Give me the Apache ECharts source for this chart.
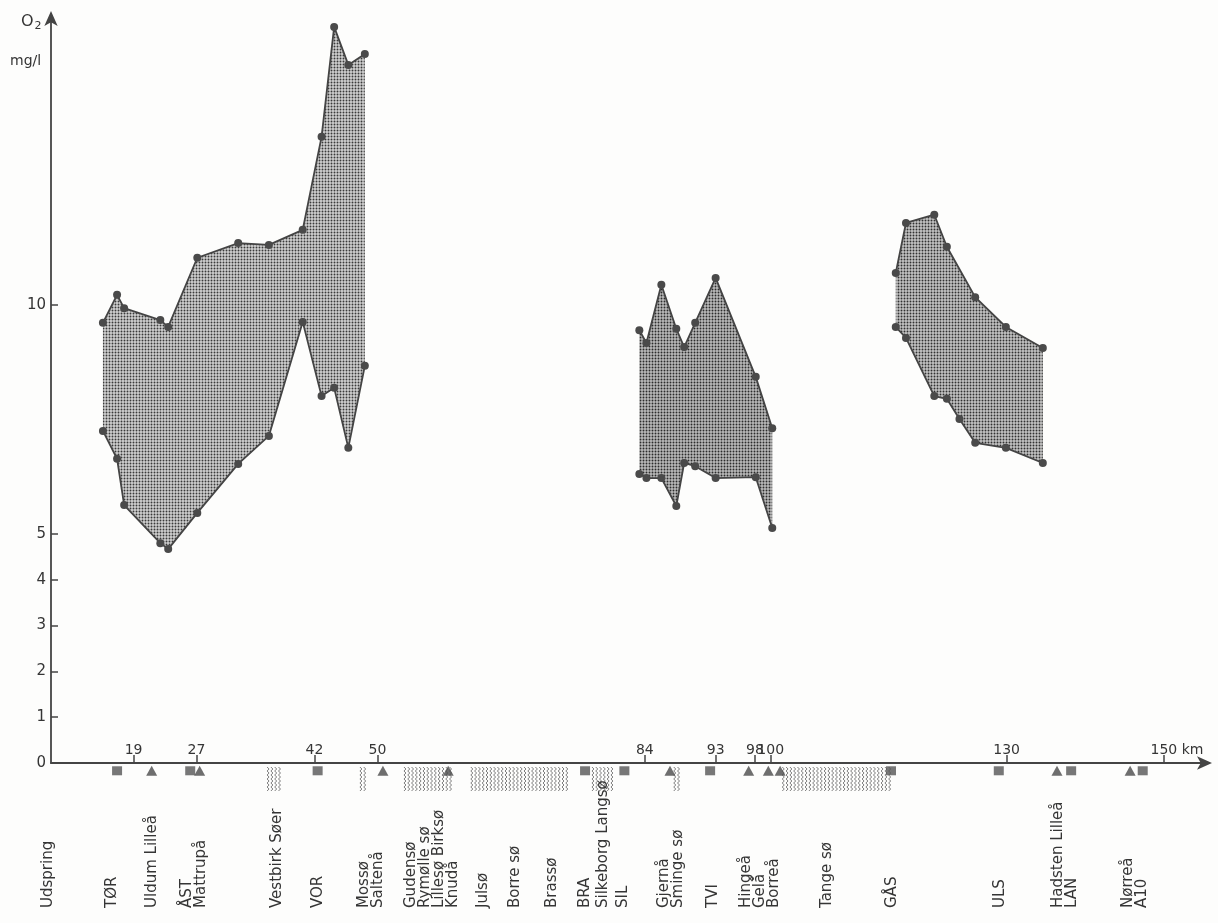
<!DOCTYPE html>
<html>
<head>
<meta charset="utf-8">
<script src="https://cdn.jsdelivr.net/npm/echarts@6/dist/echarts.min.js"></script>
<style>
  html, body { margin: 0; padding: 0; background: #fdfdfc; }
  #chart { width: 1218px; height: 923px; }
</style>
</head>
<body>
<div id="chart"></div>
<script>
// Gudenå: range of dissolved oxygen (lowest / highest, mg/l) at the stations
// of three river stretches, plotted against distance from the source (km).

// Stretch above the lakes
const kmA  = [15.1, 16.9, 17.8, 22.4, 23.4, 27.1, 32.3, 36.2, 40.5, 42.9, 44.5, 46.3, 48.4];
const maxA = [9.61, 10.22, 9.93, 9.67, 9.52, 11.03, 11.35, 11.31, 11.64, 13.67, 16.07, 15.24, 15.48];
const minA = [7.25, 6.64, 5.63, 4.80, 4.67, 5.46, 6.53, 7.14, 9.63, 8.01, 8.19, 6.88, 8.67];

// Silkeborg – Tange sø
const kmB  = [83.3, 84.2, 86.1, 88.0, 89.0, 90.4, 93.0, 98.1, 100.2];
const maxB = [9.45, 9.17, 10.44, 9.48, 9.08, 9.61, 10.59, 8.43, 7.31];
const minB = [6.31, 6.22, 6.22, 5.61, 6.55, 6.48, 6.22, 6.24, 5.13];

// Below Tange sø
const kmC  = [115.9, 117.2, 120.8, 122.4, 124.0, 126.0, 129.9, 134.6];
const maxC = [10.70, 11.79, 11.97, 11.27, null, 10.17, 9.52, 9.06];
const minC = [9.52, 9.28, 8.01, 7.95, 7.51, 6.99, 6.88, 6.55];

// Axis ticks
const kmTicks = [19, 27, 42, 50, 84, 93, 98, 100, 130, 150];
const o2Labels = [0, 1, 2, 3, 4, 5, 10];
const o2Ticks = [1, 2, 3, 4, 5, 10];

// Sampling stations (squares) and tributary inflows (triangles), km
const stationKm = [16.9, 26.2, 42.4, 76.4, 81.4, 92.3, 115.3, 129.0, 138.2, 147.3];
const tributaryKm = [21.3, 27.4, 50.7, 59.0, 87.2, 97.2, 99.7, 101.2, 136.4, 145.7];

// Lakes along the river: [from km, to km]
const lakes = [[36.1, 37.9], [47.9, 48.7], [53.5, 59.6], [62.0, 74.2], [77.4, 80.0], [87.8, 88.5], [101.6, 115.4]];

// Place names along the river
const placeKm = [8.1, 16.3, 21.3, 26.7, 37.2, 42.4, 49.2, 56.9, 63.4, 67.5, 72.2, 76.4, 78.7, 81.2, 87.4, 92.7, 98.6, 107.2, 115.4, 129.2, 137.4, 146.3];
const placeNames = [
  'Udspring', 'TØR', 'Uldum Lilleå', 'ÅST\nMattrupå', 'Vestbirk Søer', 'VOR',
  'Mossø\nSaltenå', 'Gudensø\nRymølle sø\nLillesø Birksø\nKnudå', 'Julsø', 'Borre sø',
  'Brassø', 'BRA', 'Silkeborg Langsø', 'SIL', 'Gjernå\nSminge sø', 'TVI',
  'Hingeå\nGelå\nBorreå', 'Tange sø', 'GÅS', 'ULS', 'Hadsten Lilleå\nLAN', 'Nørreå\nA10'
];

const segments = [
  { km: kmA, max: maxA, min: minA },
  { km: kmB, max: maxB, min: minB },
  { km: kmC, max: maxC, min: minC }
];

const INK = '#444444';
const TEXT = '#353535';
const FONT = '"DejaVu Sans", sans-serif';

// Stipple screens for the shaded ranges
function stipple(bg, dot) {
  const c = document.createElement('canvas');
  c.width = 3; c.height = 3;
  const g = c.getContext('2d');
  g.fillStyle = bg; g.fillRect(0, 0, 3, 3);
  g.fillStyle = dot;
  g.beginPath(); g.arc(1.5, 1.5, 0.95, 0, Math.PI * 2); g.fill();
  return c;
}
const screens = [
  stipple('#d0d0d0', '#3a3a3a'),
  stipple('#bababa', '#2c2c2c'),
  stipple('#c4c4c4', '#313131')
];

const series = [];

// Shaded area between lowest and highest value of each stretch
series.push({
  type: 'custom',
  coordinateSystem: 'cartesian2d',
  clip: false,
  z: 1,
  silent: true,
  data: segments.map((s, i) => [s.km[0], i]),
  renderItem(params, api) {
    const s = segments[params.dataIndex];
    const up = [], lo = [];
    s.km.forEach((k, j) => {
      if (s.max[j] != null) up.push(api.coord([k, s.max[j]]));
      if (s.min[j] != null) lo.push(api.coord([k, s.min[j]]));
    });
    return {
      type: 'polygon',
      shape: { points: up.concat(lo.reverse()) },
      style: { fill: { image: screens[params.dataIndex], repeat: 'repeat' }, stroke: null }
    };
  }
});

// Outlines with station dots
segments.forEach((s) => {
  ['max', 'min'].forEach((key) => {
    series.push({
      type: 'line',
      z: 3,
      clip: false,
      silent: true,
      symbol: 'circle',
      symbolSize: 8,
      showAllSymbol: true,
      itemStyle: { color: '#4a4a4a' },
      lineStyle: { color: INK, width: 1.8 },
      data: s.km.map((k, j) => [k, s[key][j]]).filter((d) => d[1] != null)
    });
  });
});

// Lakes: wavy vertical hatching below the axis
series.push({
  type: 'custom',
  coordinateSystem: 'cartesian2d',
  clip: false,
  z: 2,
  silent: true,
  data: lakes.map((l) => [l[0], 0]),
  renderItem(params, api) {
    const lake = lakes[params.dataIndex];
    const x0 = api.coord([lake[0], 0])[0];
    const x1 = api.coord([lake[1], 0])[0];
    const y0 = api.coord([lake[0], 0])[1];
    const children = [];
    for (let x = x0; x <= x1 + 0.1; x += 3.8) {
      const pts = [];
      for (let t = 0; t <= 24; t += 2) pts.push([x + ((t / 2) % 2 === 0 ? -1 : 1), y0 + 4 + t]);
      children.push({
        type: 'polyline',
        shape: { points: pts },
        style: { stroke: '#6e6e6e', lineWidth: 0.9, fill: null }
      });
    }
    return { type: 'group', children };
  }
});

// Stations and tributaries
series.push({
  type: 'scatter',
  clip: false,
  z: 4,
  silent: true,
  symbol: 'rect',
  symbolSize: [10, 9],
  itemStyle: { color: '#555555' },
  data: stationKm.map((k) => [k, -0.17])
});
series.push({
  type: 'scatter',
  clip: false,
  z: 4,
  silent: true,
  symbol: 'triangle',
  symbolSize: [11, 10],
  itemStyle: { color: '#4a4a4a' },
  data: tributaryKm.map((k) => [k, -0.17])
});

// Place names, written upwards from a common baseline
series.push({
  type: 'custom',
  coordinateSystem: 'cartesian2d',
  clip: false,
  z: 5,
  silent: true,
  data: placeKm.map((k) => [k, 0]),
  renderItem(params, api) {
    const x = api.coord([api.value(0), 0])[0];
    return {
      type: 'text',
      x: x,
      y: 908,
      rotation: Math.PI / 2,
      style: {
        text: placeNames[params.dataIndex],
        align: 'left',
        verticalAlign: 'middle',
        fontFamily: FONT,
        fontSize: 15,
        lineHeight: 14,
        fill: TEXT
      }
    };
  }
});

const option = {
  backgroundColor: '#fdfdfc',
  animation: false,
  grid: { left: 51, right: 10, top: 15, bottom: 160, containLabel: false },
  xAxis: {
    type: 'value',
    min: 8.5,
    max: 155.6,
    axisLine: { show: true, lineStyle: { color: INK, width: 1.8 }, symbol: ['none', 'arrow'], symbolSize: [10, 15], symbolOffset: [0, 4] },
    axisTick: { show: true, inside: true, length: 8, customValues: kmTicks, lineStyle: { color: INK, width: 1.5 } },
    axisLabel: {
      show: true,
      inside: true,
      margin: 6,
      customValues: kmTicks,
      color: TEXT,
      fontFamily: FONT,
      fontSize: 14,
      formatter: (v) => (v === 150 ? '{km|150 km}' : String(v)),
      rich: { km: { fontFamily: FONT, fontSize: 14, color: TEXT, padding: [0, 0, 0, 26] } }
    },
    splitLine: { show: false }
  },
  yAxis: {
    type: 'value',
    min: 0,
    max: 16.33,
    axisLine: { show: true, lineStyle: { color: INK, width: 1.8 }, symbol: ['none', 'arrow'], symbolSize: [10, 15], symbolOffset: [0, 4] },
    axisTick: { show: true, inside: true, length: 7, customValues: o2Ticks, lineStyle: { color: INK, width: 1.5 } },
    axisLabel: {
      show: true,
      margin: 5,
      customValues: o2Labels,
      color: TEXT,
      fontFamily: FONT,
      fontSize: 15
    },
    splitLine: { show: false }
  },
  graphic: [
    {
      type: 'text',
      left: 21,
      top: 14,
      style: {
        text: '{o|O}{s|2}',
        rich: {
          o: { fontFamily: FONT, fontSize: 16, fill: TEXT, color: TEXT },
          s: { fontFamily: FONT, fontSize: 11, fill: TEXT, color: TEXT, padding: [8, 0, 0, 1] }
        }
      }
    },
    {
      type: 'text',
      left: 10,
      top: 54,
      style: { text: 'mg/l', fontFamily: FONT, fontSize: 14, fill: TEXT }
    }
  ],
  series: series
};

const chart = echarts.init(document.getElementById('chart'));
chart.setOption(option);
</script>
</body>
</html>
